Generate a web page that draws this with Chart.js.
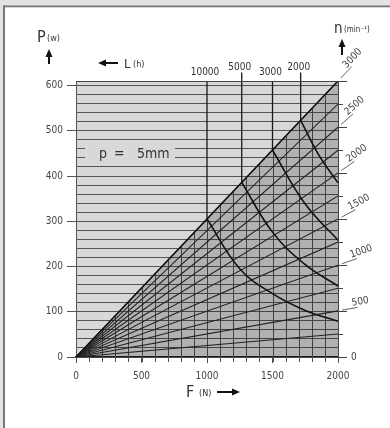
<!DOCTYPE html>
<html>
<head>
<meta charset="utf-8">
<script src="https://cdn.jsdelivr.net/npm/chart.js@4/dist/chart.umd.min.js"></script>
<style>
html,body{margin:0;padding:0;background:#e3e3e3;}
canvas{display:block;}
</style>
</head>
<body>
<canvas id="c" width="390" height="428"></canvas>
<script>
// ---- data ----
const diagForce = [0, 2000];
const diagPower = [0, 610];
const rpmValues   = [250, 500, 750, 1000, 1250, 1500, 1750, 2000, 2250, 2500, 2750, 3000];
const rpmEndPower = [51, 102, 152, 203, 254, 305, 356, 407, 457, 508, 559, 610];
const rpmLabels   = [0, 500, 1000, 1500, 2000, 2500, 3000];
const lifeHours   = [10000, 5000, 3000, 2000];
const lifeForce   = [1000, 1265, 1500, 1715];
const lifeTopP    = [610, 629, 610, 629];
const lifeDiagP   = [305, 386, 457, 523];
const curve10000F = [1000, 1250, 1500, 1750, 2000];
const curve10000P = [305, 195, 140, 103, 79];
const curve5000F  = [1265, 1500, 1750, 2000];
const curve5000P  = [386, 276, 204, 157];
const curve3000F  = [1500, 1750, 2000];
const curve3000P  = [457, 338, 258];
const curve2000F  = [1715, 1850, 2000];
const curve2000P  = [523, 448, 385];
const gridForce   = [100,200,300,400,500,600,700,800,900,1000,1100,1200,1300,1400,1500,1600,1700,1800,1900];
const xTicks = [0, 500, 1000, 1500, 2000];
const yTickLabelStep = 100;

const FONT = "'DejaVu Sans Condensed','Liberation Sans Narrow','DejaVu Sans',sans-serif";
const pts = (xs, ys) => xs.map((x, i) => ({x, y: ys[i]}));

const datasets = [];
// shaded triangle
datasets.push({data: pts(diagForce, diagPower), fill: 'origin', backgroundColor: 'rgba(0,0,0,0.18)',
  borderWidth: 0, borderColor: 'rgba(0,0,0,0)', order: 100});
// radial rpm lines
rpmValues.forEach((r, i) => datasets.push({data: [{x: 0, y: 0}, {x: 2000, y: rpmEndPower[i]}],
  borderColor: '#222', borderWidth: 1.1, fill: false, order: 10}));
// life vertical lines
lifeForce.forEach((f, i) => datasets.push({data: [{x: f, y: lifeTopP[i]}, {x: f, y: lifeDiagP[i]}],
  borderColor: '#1a1a1a', borderWidth: 1.3, fill: false, clip: false, order: 5}));
// life curves
[[curve10000F, curve10000P], [curve5000F, curve5000P], [curve3000F, curve3000P], [curve2000F, curve2000P]]
  .forEach(([f, p]) => datasets.push({data: pts(f, p), borderColor: '#111', borderWidth: 1.6,
    fill: false, tension: 0.4, order: 3}));
// diagonal line
datasets.push({data: pts(diagForce, diagPower), borderColor: '#111', borderWidth: 1.5, fill: false, order: 1});

function arrow(ctx, x1, y1, x2, y2) { // tail -> head
  const a = Math.atan2(y2 - y1, x2 - x1);
  ctx.beginPath(); ctx.lineWidth = 2; ctx.moveTo(x1, y1);
  ctx.lineTo(x2 - 6 * Math.cos(a), y2 - 6 * Math.sin(a)); ctx.stroke();
  ctx.beginPath(); ctx.moveTo(x2, y2);
  ctx.lineTo(x2 - 8 * Math.cos(a) + 3.5 * Math.sin(a), y2 - 8 * Math.sin(a) - 3.5 * Math.cos(a));
  ctx.lineTo(x2 - 8 * Math.cos(a) - 3.5 * Math.sin(a), y2 - 8 * Math.sin(a) + 3.5 * Math.cos(a));
  ctx.closePath(); ctx.fill();
}

const decor = {
  id: 'decor',
  beforeDraw(chart) {
    const {ctx, chartArea: a} = chart;
    ctx.save();
    ctx.fillStyle = '#e3e3e3'; ctx.fillRect(0, 0, 390, 428);
    ctx.fillStyle = '#777'; ctx.fillRect(3, 5.5, 387, 2); ctx.fillRect(3, 5.5, 2, 423);
    ctx.fillStyle = '#fff'; ctx.fillRect(5, 7.5, 385, 421);
    ctx.fillStyle = '#d8d8d8'; ctx.fillRect(a.left, a.top, a.right - a.left, a.bottom - a.top);
    ctx.restore();
  },
  beforeDatasetsDraw(chart) {
    const {ctx} = chart, xs = chart.scales.x, ys = chart.scales.y;
    ctx.save(); ctx.strokeStyle = '#505050'; ctx.lineWidth = 1;
    gridForce.forEach(f => {
      const x = Math.round(xs.getPixelForValue(f)) + 0.5;
      const yTop = ys.getPixelForValue(f * diagPower[1] / diagForce[1]);
      ctx.beginPath(); ctx.moveTo(x, ys.getPixelForValue(0) + 5); ctx.lineTo(x, yTop); ctx.stroke();
    });
    ctx.restore();
  },
  afterDraw(chart) {
    const {ctx, chartArea: a} = chart, xs = chart.scales.x, ys = chart.scales.y;
    ctx.save();
    // frame: top and right
    ctx.strokeStyle = '#444'; ctx.lineWidth = 1;
    const yTop = Math.round(ys.getPixelForValue(610)) + 0.5;
    ctx.beginPath(); ctx.moveTo(a.left, yTop); ctx.lineTo(a.right + 9, yTop); ctx.stroke();
    ctx.beginPath(); ctx.moveTo(Math.round(a.right) + 0.5, a.top); ctx.lineTo(Math.round(a.right) + 0.5, a.bottom); ctx.stroke();
    // right side ticks + rpm labels
    const x0 = xs.getPixelForValue(0), y0 = ys.getPixelForValue(0);
    const xr = xs.getPixelForValue(2000);
    ctx.strokeStyle = '#444';
    rpmValues.forEach((r, i) => {
      const y = Math.round(ys.getPixelForValue(rpmEndPower[i])) + 0.5;
      ctx.beginPath(); ctx.moveTo(xr, y); ctx.lineTo(xr + (rpmLabels.includes(r) ? 9 : 5), y); ctx.stroke();
    });
    ctx.beginPath(); ctx.moveTo(xr, Math.round(y0) + 0.5); ctx.lineTo(xr + 9, Math.round(y0) + 0.5); ctx.stroke();
    ctx.fillStyle = '#444'; ctx.font = '10px ' + FONT;
    ctx.textBaseline = 'middle'; ctx.textAlign = 'left';
    ctx.fillText('0', xr + 13, y0);
    rpmLabels.forEach(r => {
      if (r === 0) return;
      const i = rpmValues.indexOf(r);
      const yp = ys.getPixelForValue(rpmEndPower[i]);
      const ang = Math.atan2(yp - y0, xr - x0);
      const ux = Math.cos(ang), uy = Math.sin(ang);
      ctx.strokeStyle = '#555'; ctx.lineWidth = 0.9;
      ctx.beginPath(); ctx.moveTo(xr + ux * 4, yp + uy * 4); ctx.lineTo(xr + ux * 20, yp + uy * 20); ctx.stroke();
      ctx.save(); ctx.translate(xr + ux * 15, yp + uy * 15); ctx.rotate(ang);
      ctx.textBaseline = 'alphabetic'; ctx.fillText(String(r), 0, -2.5); ctx.restore();
    });
    // life labels
    ctx.font = '10px ' + FONT; ctx.textAlign = 'center'; ctx.textBaseline = 'alphabetic'; ctx.fillStyle = '#333';
    const lifeBase = [75, 70, 75, 70];
    lifeHours.forEach((h, i) => ctx.fillText(String(h), xs.getPixelForValue(lifeForce[i]) - 2, lifeBase[i]));
    // axis titles
    ctx.textAlign = 'left'; ctx.fillStyle = '#333'; ctx.strokeStyle = '#111';
    ctx.font = '16px ' + FONT; ctx.fillText('P', 37, 42);
    ctx.font = '9px ' + FONT; ctx.fillText('(w)', 47, 41);
    ctx.fillStyle = '#111'; arrow(ctx, 49, 64, 49, 49);
    ctx.fillStyle = '#333'; ctx.font = '13px ' + FONT; ctx.fillText('L', 124, 68);
    ctx.font = '9px ' + FONT; ctx.fillText('(h)', 133, 67);
    ctx.fillStyle = '#111'; arrow(ctx, 118, 63, 98, 63);
    ctx.fillStyle = '#333'; ctx.font = '15px ' + FONT; ctx.fillText('n', 334, 33);
    ctx.font = '8px ' + FONT; ctx.fillText('(min⁻¹)', 344, 32);
    ctx.fillStyle = '#111'; arrow(ctx, 342, 55, 342, 39);
    ctx.fillStyle = '#333'; ctx.font = '16px ' + FONT; ctx.fillText('F', 186, 397);
    ctx.font = '9px ' + FONT; ctx.fillText('(N)', 199, 396);
    ctx.fillStyle = '#111'; arrow(ctx, 217, 392, 240, 392);
    // pitch box
    ctx.fillStyle = '#d8d8d8'; ctx.fillRect(85, 144, 90, 17);
    ctx.fillStyle = '#333'; ctx.font = '14px ' + FONT;
    ctx.fillText('p', 99, 158); ctx.fillText('=', 114, 158); ctx.fillText('5mm', 137, 158);
    ctx.restore();
  }
};

new Chart(document.getElementById('c'), {
  type: 'line',
  data: {datasets},
  options: {
    responsive: false, animation: false, events: [],
    layout: {padding: {left: 0, top: 81, right: 52, bottom: 0}},
    elements: {point: {radius: 0}, line: {tension: 0}},
    plugins: {legend: {display: false}, tooltip: {enabled: false}},
    scales: {
      x: {type: 'linear', min: 0, max: 2000,
        afterFit: s => { s.height = 71; },
        afterBuildTicks: s => { s.ticks = xTicks.map(v => ({value: v})); },
        grid: {drawOnChartArea: false, tickLength: 6, color: '#555', tickColor: '#555'},
        border: {display: true, color: '#222', width: 1.2},
        ticks: {padding: 7, color: '#444', font: {family: FONT, size: 10}, maxRotation: 0, autoSkip: false,
          callback: v => String(v)}},
      y: {type: 'linear', min: 0, max: 610,
        afterFit: s => { s.width = 76; },
        afterBuildTicks: s => { const t = []; for (let v = 0; v <= 600; v += 20) t.push({value: v}); s.ticks = t; },
        grid: {color: '#555', lineWidth: 1, tickLength: 9,
          tickColor: c => (c.tick && c.tick.value % yTickLabelStep === 0) ? '#555' : 'rgba(0,0,0,0)'},
        border: {display: true, color: '#555', width: 1},
        ticks: {padding: 4, color: '#444', font: {family: FONT, size: 10}, autoSkip: false,
          callback: v => (v % yTickLabelStep === 0 ? String(v) : '')}}
    }
  },
  plugins: [decor]
});
</script>
</body>
</html>
